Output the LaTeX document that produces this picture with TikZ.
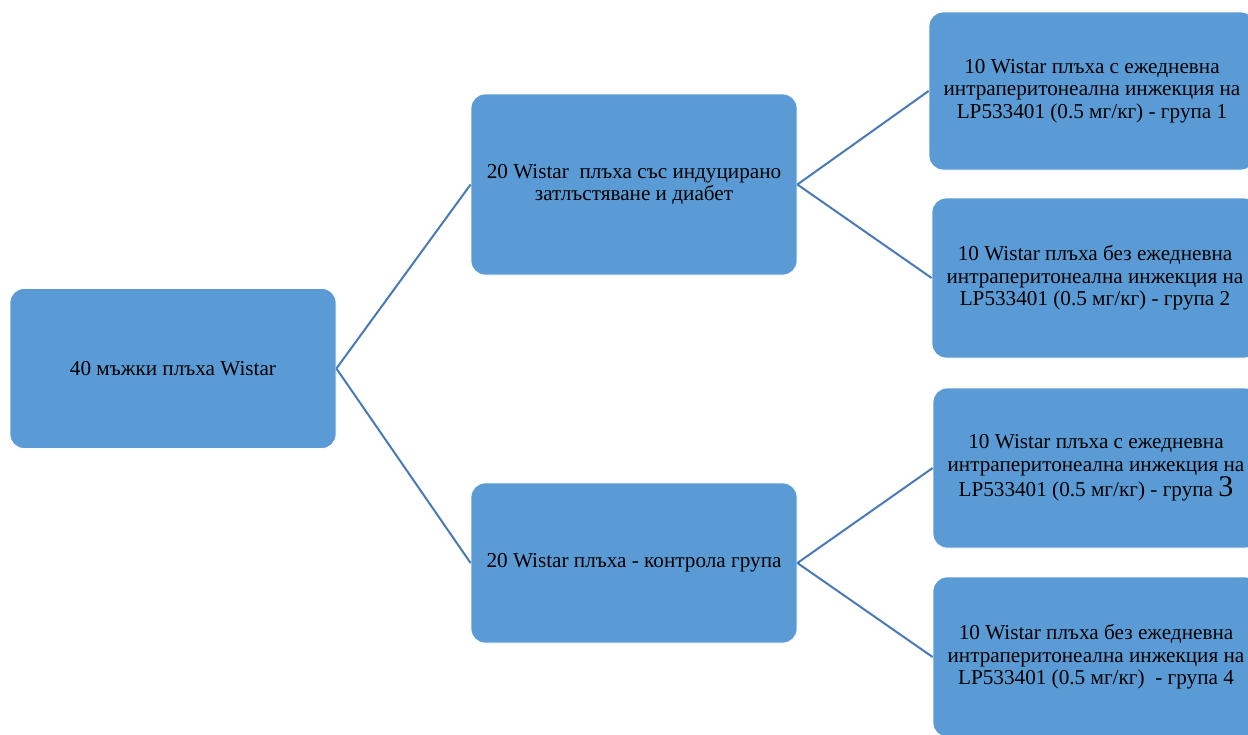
\documentclass[tikz,border=0pt]{standalone}
\usepackage{fontspec}
\setmainfont{Liberation Serif}
\usepackage{tikz}
\definecolor{boxblue}{RGB}{91,155,213}
\definecolor{linkblue}{RGB}{72,123,182}
\tikzset{
  grpbox/.style={rectangle, rounded corners=14pt, fill=boxblue, draw=white,
    line width=0.8pt, inner sep=0pt, minimum width=326pt, minimum height=160pt,
    align=center, font=\fontsize{21.2}{22.5}\selectfont},
  link/.style={draw=linkblue, line width=2pt}
}

\begin{document}
\begin{tikzpicture}[x=1pt,y=-1pt]
  \useasboundingbox (0,0) rectangle (1248,734);
  \clip (0,0) rectangle (1248,734);

  \node [grpbox] (rats) at (173,368.5) {40 мъжки плъха Wistar};

  \node [grpbox,minimum height=181pt] (obese) at (634,184.5)
    {20 Wistar \ плъха със индуцирано\\затлъстяване и диабет};
  \node [grpbox] (control) at (634,563) {20 Wistar плъха - контрола група};

  \node [grpbox,minimum height=158pt] (grpone) at (1092,91)
    {10 Wistar плъха с ежедневна\\интраперитонеална инжекция на\\LP533401 (0.5 мг/кг) - група 1};
  \node [grpbox] (grptwo) at (1095,278)
    {10 Wistar плъха без ежедневна\\интраперитонеална инжекция на\\LP533401 (0.5 мг/кг) - група 2};
  \node [grpbox] (grpthree) at (1096,468)
    {10 Wistar плъха с ежедневна\\интраперитонеална инжекция на\\LP533401 (0.5 мг/кг) - група {\fontsize{30}{22.5}\selectfont 3}};
  \node [grpbox] (grpfour) at (1096,657)
    {10 Wistar плъха без ежедневна\\интраперитонеална инжекция на\\LP533401 (0.5 мг/кг) \ - група 4};

  \draw [link] (rats.east) -- (obese.west);
  \draw [link] (rats.east) -- (control.west);
  \draw [link] (obese.east) -- (grpone.west);
  \draw [link] (obese.east) -- (grptwo.west);
  \draw [link] (control.east) -- (grpthree.west);
  \draw [link] (control.east) -- (grpfour.west);
\end{tikzpicture}
\end{document}
